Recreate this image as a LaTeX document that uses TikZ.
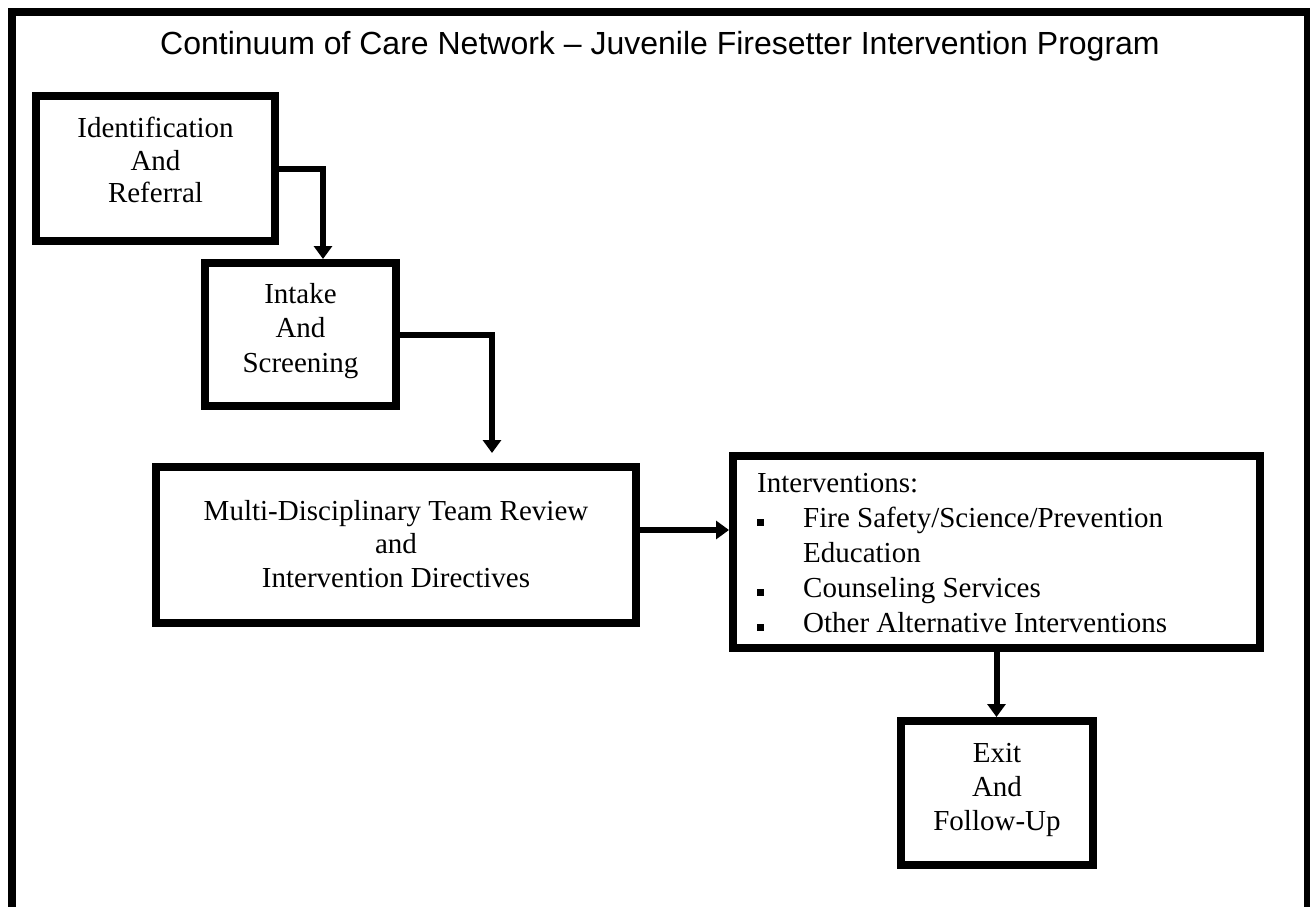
\documentclass[tikz,border=0pt]{standalone}
\usepackage{fontspec}
\setmainfont{Liberation Serif}
\newfontfamily\titlefont{Liberation Sans}
\usetikzlibrary{arrows.meta}
\newcommand{\sqbullet}{\rule[1.5pt]{6.5pt}{6.5pt}}
\begin{document}
\begin{tikzpicture}[x=1pt,y=-1pt,
  box/.style={draw, line width=8pt, inner sep=0pt},
  txt/.style={anchor=base, inner sep=0pt},
  conn/.style={line width=6pt, -{Triangle[width=18pt,length=13pt]}},
  frameline/.style={line width=8pt}]
\useasboundingbox (0,0) rectangle (1310,907);
\fill[white] (0,0) rectangle (1310,907);
% outer frame (no bottom edge)
\draw[frameline] (12,907) -- (12,12) -- (1308,12) -- (1308,907);
% title
\node[txt, font=\titlefont\fontsize{32pt}{38pt}\selectfont] (title) at (660,54.5)
  {Continuum of Care Network – Juvenile Firesetter Intervention Program};
% boxes
\node[box, minimum width=239pt, minimum height=145pt] (b1) at (155.5,168.5) {};
\node[box, minimum width=191pt, minimum height=143pt] (b2) at (300.5,334.5) {};
\node[box, minimum width=480pt, minimum height=156.5pt] (b3) at (396,544.75) {};
\node[box, minimum width=527pt, minimum height=192pt] (b4) at (996.5,552) {};
\node[box, minimum width=192pt, minimum height=144pt] (b5) at (997,793) {};
% texts
\node[txt, font=\fontsize{29pt}{33pt}\selectfont] (t1) at (155.5,137)
  {\begin{tabular}[t]{@{}c@{}}Identification\\And\\Referral\end{tabular}};
\node[txt, font=\fontsize{29pt}{34.5pt}\selectfont] (t2) at (300.5,303)
  {\begin{tabular}[t]{@{}c@{}}Intake\\And\\Screening\end{tabular}};
\node[txt, font=\fontsize{29pt}{33.5pt}\selectfont] (t3) at (396,520)
  {\begin{tabular}[t]{@{}c@{}}Multi-Disciplinary Team Review\\and\\Intervention Directives\end{tabular}};
\node[txt, anchor=base west, font=\fontsize{29pt}{35pt}\selectfont] (t4) at (757,492)
  {\begin{tabular}[t]{@{}l@{}l@{}}
   \multicolumn{2}{@{}l@{}}{Interventions:}\\
   \makebox[46pt][l]{\sqbullet} & Fire Safety/Science/Prevention\\
    & Education\\
   \makebox[46pt][l]{\sqbullet} & Counseling Services\\
   \makebox[46pt][l]{\sqbullet} & Other Alternative Interventions
   \end{tabular}};
\node[txt, font=\fontsize{29pt}{34pt}\selectfont] (t5) at (997,762)
  {\begin{tabular}[t]{@{}c@{}}Exit\\And\\Follow-Up\end{tabular}};
% connectors
\coordinate (k1) at (323,0);
\draw[conn] (b1.east) -| (k1 |- b2.north);
\coordinate (k2) at (492,453);
\draw[conn] (b2.east) -| (k2);
\coordinate (k3) at (0,530);
\draw[conn] (b3.east |- k3) -- (b4.west |- k3);
\draw[conn] (b4.south) -- (b4.south |- b5.north);
\end{tikzpicture}
\end{document}
